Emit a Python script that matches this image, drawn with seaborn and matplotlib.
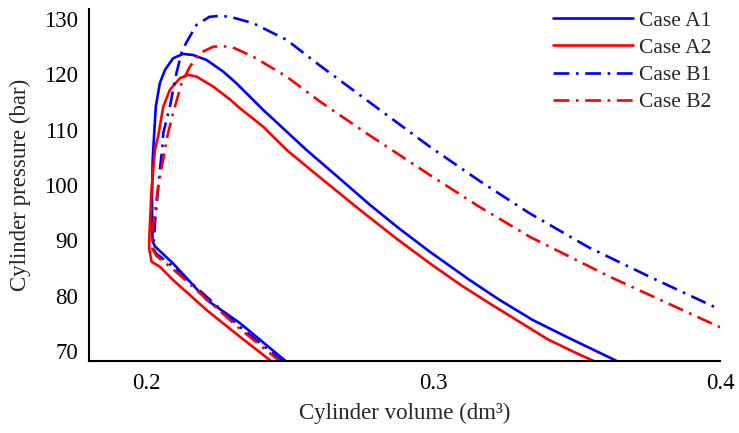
import pandas as pd
import seaborn as sns
import matplotlib.pyplot as plt

# p-V loop traces (x: dm3, y: bar)
a1_x = [0.2490, 0.2326, 0.2211, 0.2092, 0.2030, 0.2022, 0.2020, 0.2020, 0.2022, 0.2033,
        0.2047, 0.2065, 0.2093, 0.2128, 0.2163, 0.2210, 0.2268, 0.2314, 0.2407, 0.2558,
        0.2660, 0.2780, 0.2880, 0.2988, 0.3127, 0.3232, 0.3347, 0.3464, 0.3652]
a1_y = [68.0, 75.06, 79.22, 85.9, 88.9, 89.8, 93.0, 98.0, 104.5, 114.2,
        118.4, 120.8, 122.9, 123.7, 123.5, 122.6, 120.5, 118.4, 113.6, 106.35,
        101.8, 96.4, 92.2, 87.96, 82.84, 79.22, 75.61, 72.59, 67.9]

a2_x = [0.2442, 0.2326, 0.2210, 0.2093, 0.2047, 0.2018, 0.2010, 0.2010, 0.2018, 0.2030,
        0.2041, 0.2059, 0.2082, 0.2117, 0.2146, 0.2175, 0.2233, 0.2291, 0.2326, 0.2407,
        0.2489, 0.2600, 0.2740, 0.2870, 0.2988, 0.3100, 0.3200, 0.3300, 0.3400, 0.3500,
        0.3590]
a2_y = [67.9, 72.59, 77.41, 82.84, 85.24, 86.15, 88.5, 90.1, 99.1, 106.35,
        108.75, 114.18, 117.2, 119.31, 119.91, 119.6, 117.8, 115.5, 113.89, 110.56,
        106.35, 101.6, 95.7, 90.4, 85.86, 81.8, 78.5, 75.3, 72.1, 69.6,
        67.5]

b1_x = [0.2480, 0.2326, 0.2210, 0.2093, 0.2035, 0.2024, 0.2030, 0.2047, 0.2055, 0.2059,
        0.2082, 0.2105, 0.2124, 0.2140, 0.2175, 0.2220, 0.2260, 0.2300, 0.2372, 0.2489,
        0.2605, 0.2767, 0.2988, 0.3160, 0.3336, 0.3540, 0.3754, 0.4000]
b1_y = [67.9, 74.39, 79.82, 85.24, 87.6, 88.5, 93.09, 102.73, 106.35, 109.37,
        114.18, 120.22, 124.2, 125.8, 128.95, 130.4, 130.6, 130.3, 129.26, 126.24,
        121.6, 115.39, 106.94, 100.8, 94.9, 88.8, 83.44, 77.5]

b2_x = [0.2472, 0.2326, 0.2210, 0.2093, 0.2035, 0.2020, 0.2018, 0.2024, 0.2041, 0.2065,
        0.2070, 0.2093, 0.2123, 0.2152, 0.2186, 0.2233, 0.2265, 0.2300, 0.2372, 0.2489,
        0.2605, 0.2767, 0.2988, 0.3160, 0.3336, 0.3615, 0.4000]
b2_y = [67.9, 74.0, 79.4, 84.8, 87.2, 88.6, 89.5, 92.48, 99.71, 106.35,
        108.16, 112.98, 118.41, 121.41, 123.83, 125.0, 125.1, 124.9, 123.22, 119.6,
        115.1, 109.37, 101.83, 96.1, 90.67, 83.44, 74.3]

cases = ["Case A1", "Case A2", "Case B1", "Case B2"]
xs = [a1_x, a2_x, b1_x, b2_x]
ys = [a1_y, a2_y, b1_y, b2_y]

frames = []
for name, x, y in zip(cases, xs, ys):
    frames.append(pd.DataFrame({"volume": x, "pressure": y, "case": name}))
df = pd.concat(frames, ignore_index=True)

sns.set_style("white")
plt.rcParams["font.family"] = ["Liberation Serif", "DejaVu Serif"]

palette = {"Case A1": "#0000ff", "Case A2": "#ff0000", "Case B1": "#0000ff", "Case B2": "#ff0000"}
dashes = {"Case A1": "", "Case A2": "", "Case B1": (6, 2.5, 1, 2.5), "Case B2": (6, 2.5, 1, 2.5)}

fig, ax = plt.subplots(figsize=(7.39, 4.33), dpi=100)
sns.lineplot(data=df, x="volume", y="pressure", hue="case", style="case",
             palette=palette, dashes=dashes, sort=False, estimator=None,
             linewidth=1.9, ax=ax)

ax.set_xlim(0.18, 0.40)
ax.set_ylim(68.2, 131.8)
ax.set_xticks([0.2, 0.3, 0.4])
ax.set_xticklabels(["0.2", "0.3", "0.4"])
ax.set_yticks(range(70, 131, 10))
ax.tick_params(direction="in", length=5, width=1.2, labelsize=16.5, colors="black")
ax.tick_params(axis="x", pad=9)
ax.tick_params(axis="y", pad=8)
for side in ["top", "right"]:
    ax.spines[side].set_visible(False)
for side in ["left", "bottom"]:
    ax.spines[side].set_linewidth(1.5)
    ax.spines[side].set_color("black")

ax.set_xlabel("Cylinder volume (dm³)", fontsize=16.5, labelpad=6)
ax.set_ylabel("Cylinder pressure (bar)", fontsize=16.5, labelpad=9)

leg = ax.legend(frameon=False, loc="upper right", bbox_to_anchor=(1.0, 1.02),
                fontsize=15.5, handlelength=3.7, labelspacing=0.33, handletextpad=0.3,
                borderaxespad=0.0)

fig.subplots_adjust(left=0.1204, right=0.9743, bottom=0.1663, top=0.979)
plt.savefig("out.png", dpi=100)
